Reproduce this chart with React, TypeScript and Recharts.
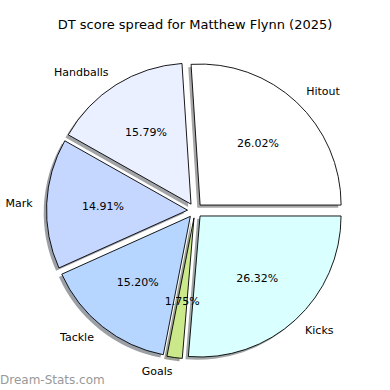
import React from 'react';
import { PieChart, Pie, Sector } from 'recharts';

const categories = ['Hitout', 'Handballs', 'Mark', 'Tackle', 'Goals', 'Kicks'];
const shares = [26.02, 15.79, 14.91, 15.2, 1.75, 26.32];
const colors = ['#ffffff', '#eaf0ff', '#c5d6ff', '#b6d5ff', '#cbe98a', '#daffff'];

const data = categories.map((name, i) => ({ name, value: shares[i], color: colors[i] }));

const RAD = Math.PI / 180;
const EXPLODE = 0.053;
const FONT = 'DejaVu Sans, sans-serif';

function exploded(p: any) {
  const d = EXPLODE * p.outerRadius;
  return {
    x: p.cx + d * Math.cos(-p.midAngle * RAD),
    y: p.cy + d * Math.sin(-p.midAngle * RAD),
  };
}

function shadowColor(hex: string) {
  const n = parseInt(hex.slice(1), 16);
  const r = Math.round(((n >> 16) & 255) * 0.3);
  const g = Math.round(((n >> 8) & 255) * 0.3);
  const b = Math.round((n & 255) * 0.3);
  return `rgb(${r},${g},${b})`;
}

const renderShadow = (p: any) => {
  const c = exploded(p);
  const s = p.outerRadius * 0.02;
  return (
    <Sector
      key={`sh-${p.index}`}
      cx={c.x - s}
      cy={c.y + s}
      innerRadius={0}
      outerRadius={p.outerRadius}
      startAngle={p.startAngle}
      endAngle={p.endAngle}
      fill={shadowColor(p.payload.color)}
      fillOpacity={0.5}
      stroke="none"
    />
  );
};

const renderWedge = (p: any) => {
  const c = exploded(p);
  return (
    <Sector
      key={`w-${p.index}`}
      cx={c.x}
      cy={c.y}
      innerRadius={0}
      outerRadius={p.outerRadius}
      startAngle={p.startAngle}
      endAngle={p.endAngle}
      fill={p.payload.color}
      stroke="#000"
      strokeWidth={0.9}
      strokeLinejoin="miter"
    />
  );
};

const renderText = (p: any) => {
  const c = exploded(p);
  const cos = Math.cos(-p.midAngle * RAD);
  const sin = Math.sin(-p.midAngle * RAD);
  const lr = p.outerRadius * 1.1;
  const pr = p.outerRadius * 0.6;
  return (
    <g key={`t-${p.index}`}>
      <text
        x={c.x + pr * cos}
        y={c.y + pr * sin}
        textAnchor="middle"
        dominantBaseline="central"
        fontFamily={FONT}
        fontSize={11}
        fill="#000"
      >
        {p.payload.value.toFixed(2)}%
      </text>
      <text
        x={c.x + lr * cos}
        y={c.y + lr * sin}
        textAnchor={cos > 0 ? 'start' : 'end'}
        dominantBaseline="central"
        fontFamily={FONT}
        fontSize={11}
        fill="#000"
      >
        {p.payload.name}
      </text>
    </g>
  );
};

export default function App() {
  const common = {
    data,
    dataKey: 'value',
    nameKey: 'name',
    cx: 195,
    cy: 210.5,
    innerRadius: 0,
    outerRadius: 141,
    startAngle: 0,
    endAngle: 360,
    isAnimationActive: false,
    labelLine: false,
    fill: 'transparent',
    stroke: 'none',
  } as any;
  return (
    <div style={{ position: 'absolute', left: 0, top: 0, width: 390, height: 390, background: '#fff', fontFamily: FONT }}>
      <PieChart width={390} height={390} margin={{ top: 0, right: 0, bottom: 0, left: 0 }}>
        <Pie {...common} label={renderShadow} />
        <Pie {...common} label={renderWedge} />
        <Pie {...common} label={renderText} />
      </PieChart>
      <div
        style={{
          position: 'absolute',
          left: 0,
          top: 16,
          width: 390,
          textAlign: 'center',
          fontSize: 13,
          lineHeight: '18px',
          color: '#000',
          fontFamily: FONT,
        }}
      >
        DT score spread for Matthew Flynn (2025)
      </div>
      <div
        style={{
          position: 'absolute',
          left: 0,
          top: 372,
          fontSize: 12,
          lineHeight: '16px',
          color: '#999',
          fontFamily: FONT,
          whiteSpace: 'nowrap',
        }}
      >
        Dream-Stats.com
      </div>
    </div>
  );
}
